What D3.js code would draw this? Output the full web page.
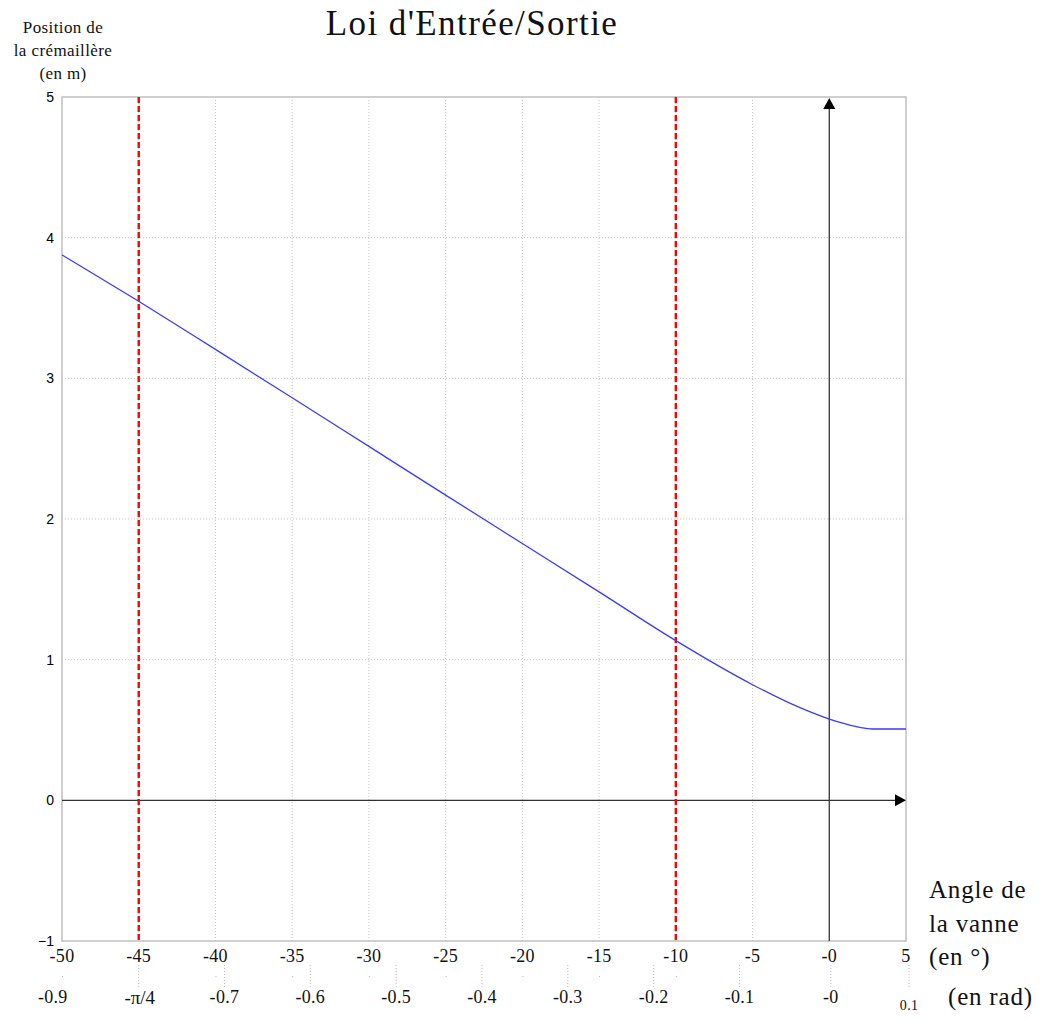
<!DOCTYPE html>
<html>
<head>
<meta charset="utf-8">
<script src="https://cdn.jsdelivr.net/npm/d3@7"></script>
<style>
  body { margin: 0; background: #fff; }
  .serif { font-family: "Liberation Serif", "DejaVu Serif", serif; fill: #111; }
  .sans { font-family: "Liberation Sans", Arial, sans-serif; fill: #000; }
</style>
</head>
<body>
<div id="chart"></div>
<script>
// angle de la vanne (deg) -> position de la cremaillere (m)
let angles = [-50, -45, -40, -35, -30, -25, -20, -15, -10, -5, -2.5, 0, 1, 2, 2.8, 5];
let positions = [3.878, 3.548, 3.206, 2.862, 2.516, 2.170, 1.826, 1.482, 1.135, 0.822, 0.687, 0.578, 0.545, 0.518, 0.507, 0.507];

let redLines = [-45, -10];
let degTicks = [-50, -45, -40, -35, -30, -25, -20, -15, -10, -5, 0, 5];
let degLabels = ["-50", "-45", "-40", "-35", "-30", "-25", "-20", "-15", "-10", "-5", "-0", "5"];
let yTicks = [5, 4, 3, 2, 1, 0, -1];
let yLabels = ["5", "4", "3", "2", "1", "0", "\u22121"];
let radTicks = [-0.9, -0.7, -0.6, -0.5, -0.4, -0.3, -0.2, -0.1, 0, 0.1];
let radLabels = ["-0.9", "-0.7", "-0.6", "-0.5", "-0.4", "-0.3", "-0.2", "-0.1", "-0", "0.1"];

window.onload = start;

function start() {
    let width = 1046, height = 1019;
    let left = 62, right = 906, top = 97, bottom = 941;

    let svg = d3.select("#chart")
        .append("svg")
        .attr("width", width)
        .attr("height", height);

    let x = d3.scaleLinear().domain([-50, 5]).range([left, right]);
    let y = d3.scaleLinear().domain([-1, 5]).range([bottom, top]);
    // radian ticks were not placed quite linearly on the original, piecewise scale
    let xRad = d3.scaleLinear().domain([-0.9, -0.1, 0, 0.1]).range([x(-50.6), x(-5.85), x(0.1), x(5.2)]);

    // title
    svg.append("text")
        .attr("class", "serif")
        .attr("x", 472)
        .attr("y", 35)
        .attr("text-anchor", "middle")
        .attr("font-size", 35)
        .attr("letter-spacing", 1.4)
        .text("Loi d'Entrée/Sortie");

    // y title
    let yTitle = ["Position de", "la crémaillère", "(en m)"];
    svg.selectAll(".ytitle")
        .data(yTitle)
        .enter()
        .append("text")
        .attr("class", "serif")
        .attr("x", 63)
        .attr("y", function(d, i) { return 33 + i * 23; })
        .attr("text-anchor", "middle")
        .attr("font-size", 17)
        .attr("letter-spacing", 0.4)
        .text(function(d) { return d; });

    // grid
    let grid = svg.append("g");
    grid.selectAll(".vgrid")
        .data(degTicks.filter(function(d) { return d > -50 && d < 0; }))
        .enter()
        .append("line")
        .attr("x1", function(d) { return x(d); })
        .attr("x2", function(d) { return x(d); })
        .attr("y1", top)
        .attr("y2", bottom)
        .attr("stroke", "#c4c4c4")
        .attr("stroke-dasharray", "1,2");
    grid.selectAll(".hgrid")
        .data(yTicks.filter(function(d) { return d > 0 && d < 5; }))
        .enter()
        .append("line")
        .attr("x1", left)
        .attr("x2", right)
        .attr("y1", function(d) { return y(d); })
        .attr("y2", function(d) { return y(d); })
        .attr("stroke", "#c4c4c4")
        .attr("stroke-dasharray", "1,2");

    // frame
    svg.append("rect")
        .attr("x", left)
        .attr("y", top)
        .attr("width", right - left)
        .attr("height", bottom - top)
        .attr("fill", "none")
        .attr("stroke", "#c0c0c0")
        .attr("stroke-width", 1.5);

    // axes through the origin
    svg.append("line")
        .attr("x1", left).attr("x2", right - 8)
        .attr("y1", y(0)).attr("y2", y(0))
        .attr("stroke", "#333").attr("stroke-width", 1.3);
    svg.append("line")
        .attr("x1", x(0)).attr("x2", x(0))
        .attr("y1", bottom).attr("y2", top + 8)
        .attr("stroke", "#333").attr("stroke-width", 1.3);
    svg.append("path")
        .attr("d", "M" + right + "," + y(0) + "l-11,-6l0,12z")
        .attr("fill", "#000");
    svg.append("path")
        .attr("d", "M" + x(0) + "," + (top + 1) + "l-6,11l12,0z")
        .attr("fill", "#000");

    // red dashed verticals
    svg.selectAll(".red")
        .data(redLines)
        .enter()
        .append("line")
        .attr("x1", function(d) { return x(d); })
        .attr("x2", function(d) { return x(d); })
        .attr("y1", top)
        .attr("y2", bottom)
        .attr("stroke", "#ff0000")
        .attr("stroke-width", 2.4)
        .attr("stroke-dasharray", "6,3");

    // curve
    let pts = angles.map(function(a, i) { return [a, positions[i]]; });
    let line = d3.line()
        .x(function(d) { return x(d[0]); })
        .y(function(d) { return y(d[1]); })
        .curve(d3.curveMonotoneX);
    svg.append("path")
        .datum(pts)
        .attr("d", line)
        .attr("fill", "none")
        .attr("stroke", "#3a3aff")
        .attr("stroke-width", 1.3);

    // y tick labels
    svg.selectAll(".ylab")
        .data(yTicks)
        .enter()
        .append("text")
        .attr("class", "sans")
        .attr("x", 54)
        .attr("y", function(d) { return y(d) + 5; })
        .attr("text-anchor", "end")
        .attr("font-size", 14)
        .text(function(d, i) { return yLabels[i]; });

    // degree tick labels
    svg.selectAll(".xlab")
        .data(degTicks)
        .enter()
        .append("text")
        .attr("class", "serif")
        .attr("x", function(d) { return x(d); })
        .attr("y", 962)
        .attr("text-anchor", "middle")
        .attr("font-size", 18)
        .attr("letter-spacing", 0.3)
        .text(function(d, i) { return degLabels[i]; });

    // small marks under degree labels
    svg.selectAll(".dot")
        .data(degTicks.filter(function(d) { return d < -5 && d !== -45; }))
        .enter()
        .append("rect")
        .attr("x", function(d) { return x(d); })
        .attr("y", 976)
        .attr("width", 1)
        .attr("height", 1)
        .attr("fill", "#bbb");

    // radian ticks
    let radLines = radTicks.filter(function(d) { return d > -0.9; });
    svg.selectAll(".radline")
        .data(radLines)
        .enter()
        .append("line")
        .attr("x1", function(d) { return xRad(d); })
        .attr("x2", function(d) { return xRad(d); })
        .attr("y1", 965)
        .attr("y2", 988)
        .attr("stroke", "#bbb")
        .attr("stroke-dasharray", "1,2");
    svg.append("line")
        .attr("x1", x(-45)).attr("x2", x(-45))
        .attr("y1", 965).attr("y2", 988)
        .attr("stroke", "#bbb")
        .attr("stroke-dasharray", "1,2");

    svg.selectAll(".radlab")
        .data(radTicks)
        .enter()
        .append("text")
        .attr("class", "serif")
        .attr("x", function(d) { return xRad(d); })
        .attr("y", function(d) { return d > 0 ? 1010 : 1003; })
        .attr("text-anchor", "middle")
        .attr("font-size", function(d) { return d > 0 ? 14 : 18; })
        .attr("letter-spacing", 0.3)
        .text(function(d, i) { return radLabels[i]; });
    svg.append("text")
        .attr("class", "serif")
        .attr("x", x(-45) + 1)
        .attr("y", 1004)
        .attr("text-anchor", "middle")
        .attr("font-size", 19)
        .text("-\u03c0/4");

    // x title
    let xTitle = ["Angle de", "la vanne", "(en °)"];
    svg.selectAll(".xtitle")
        .data(xTitle)
        .enter()
        .append("text")
        .attr("class", "serif")
        .attr("x", 929)
        .attr("y", function(d, i) { return 898 + i * 33.5; })
        .attr("font-size", 25)
        .attr("letter-spacing", 0.8)
        .text(function(d) { return d; });
    svg.append("text")
        .attr("class", "serif")
        .attr("x", 948)
        .attr("y", 1005)
        .attr("font-size", 25)
        .attr("letter-spacing", 0.8)
        .text("(en rad)");
}
</script>
</body>
</html>
